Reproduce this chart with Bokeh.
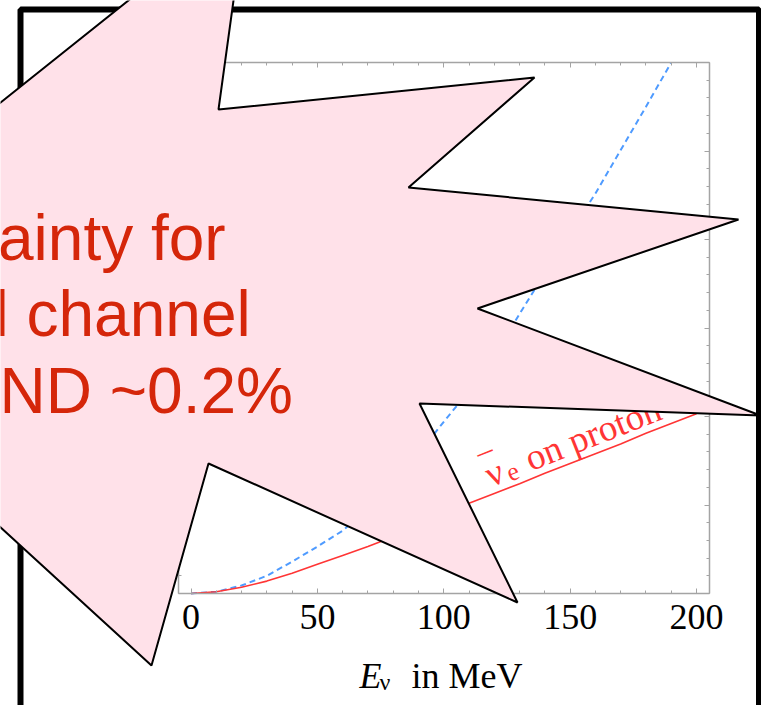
import math
from bokeh.plotting import figure
from bokeh.models import (Range1d, LinearAxis, FixedTicker, CustomJSTickFormatter,
                          Label, PolyAnnotation, BoxAnnotation, Grid)
from bokeh.embed import file_html
from bokeh.resources import INLINE

# ---------------- data ----------------
energy_mev = [0, 10, 20, 30, 40, 50, 60, 70, 80, 90, 100,
              110, 120, 130, 140, 150, 160, 170, 180, 190, 200]
# dashed blue curve leaves the top of the box at ~190 MeV
dashed_blue = [0.00, 0.02, 0.09, 0.20, 0.36, 0.53, 0.71, 0.96, 1.24, 1.58, 1.94,
               2.29, 2.68, 3.16, 3.62, 4.08, 4.52, 5.01, 5.50, 6.00]
solid_red = [0.00, 0.02, 0.07, 0.14, 0.23, 0.33, 0.43, 0.53, 0.64, 0.77, 0.89,
             1.02, 1.13, 1.24, 1.36, 1.47, 1.58, 1.69, 1.81, 1.92, 2.03]
x_major_ticks = [0, 50, 100, 150, 200]
x_minor_ticks = [0, 10, 20, 30, 40, 50, 60, 70, 80, 90, 100,
                 110, 120, 130, 140, 150, 160, 170, 180, 190, 200]
y_major_ticks = [0, 1, 2, 3, 4, 5, 6]
y_minor_ticks = [i / 5 for i in range(31)]
red_label_parts = ["\u03bd", "\u00af", "e", "on proton"]
axis_title_parts = ["E", "\u03bd", "in MeV"]
callout_lines = ["ainty for", "l channel", "ND ~0.2%"]

# ---------------- styles / geometry ----------------
W, H = 761, 705
SERIF = "Liberation Serif"
SANS = "Liberation Sans"
FRAME_GRAY = "#a4a4a4"
BLUE = "#4f9bff"
RED = "#ff3535"
CALLOUT_RED = "#d5260a"
PINK = "#ffe1e9"

X0_PX, PX_PER_MEV = 190.5, 2.5275      # canvas x of 0 MeV, px per MeV
Y0_PX, PX_PER_UNIT = 593.0, 88.5       # canvas y of 0, px per y unit
BOX_X = (-4.95, 205.1)                 # plot box limits in data units
BOX_Y = (0.0, 6.0)

x_range = Range1d(-X0_PX / PX_PER_MEV, (W - X0_PX) / PX_PER_MEV)
y_range = Range1d(-(H - Y0_PX) / PX_PER_UNIT, Y0_PX / PX_PER_UNIT)

p = figure(width=W, height=H, output_backend="svg", toolbar_location=None,
           x_range=x_range, y_range=y_range,
           x_axis_location=None, y_axis_location=None,
           min_border=0, min_border_left=0, min_border_right=0,
           min_border_top=0, min_border_bottom=0,
           background_fill_color="white", border_fill_color="white")
p.outline_line_color = None
for r in list(p.renderers) + list(p.center):
    if isinstance(r, Grid):
        r.visible = False

blank = CustomJSTickFormatter(code="return '';")


def make_axis(ticks, minor, loc, bounds, labels):
    ax = LinearAxis(ticker=FixedTicker(ticks=ticks, minor_ticks=minor),
                    fixed_location=loc, bounds=bounds)
    if not labels:
        ax.formatter = blank
    ax.axis_line_color = FRAME_GRAY
    ax.axis_line_width = 1.5
    ax.major_tick_line_color = FRAME_GRAY
    ax.minor_tick_line_color = FRAME_GRAY
    ax.major_tick_line_width = 1
    ax.minor_tick_line_width = 1
    ax.major_tick_in = 5
    ax.major_tick_out = 0
    ax.minor_tick_in = 3
    ax.minor_tick_out = 0
    return ax


xb = make_axis(x_major_ticks, x_minor_ticks, BOX_Y[0], BOX_X, True)
xb.major_label_text_font = SERIF
xb.major_label_text_font_size = "36px"
xb.major_label_text_color = "black"
xb.major_label_standoff = 11
p.add_layout(xb, "below")
p.add_layout(make_axis(x_major_ticks, x_minor_ticks, BOX_Y[1], BOX_X, False), "above")
p.add_layout(make_axis(y_major_ticks, y_minor_ticks, BOX_X[0], BOX_Y, False), "left")
p.add_layout(make_axis(y_major_ticks, y_minor_ticks, BOX_X[1], BOX_Y, False), "right")

# ---------------- curves ----------------
p.line(energy_mev[:len(dashed_blue)], dashed_blue, line_color=BLUE, line_width=2,
       line_dash="6 4")
p.line(energy_mev, solid_red, line_color=RED, line_width=1.6)

# ---------------- rotated curve label ----------------
theta = 21.6
c, s = math.cos(math.radians(theta)), math.sin(math.radians(theta))
anchor_x, anchor_y = 116.9, 1.333
pieces = [(red_label_parts[0], 0, 0, "37px", "left"),
          (red_label_parts[1], 7, -9, "32px", "center"),
          (red_label_parts[2], 20, 6, "26px", "left"),
          (red_label_parts[3], 43, 0, "37px", "left")]
for txt, along, down, size, align in pieces:
    p.add_layout(Label(x=anchor_x, y=anchor_y, text=txt,
                       x_offset=along * c + down * s, y_offset=along * s - down * c,
                       angle=theta, angle_units="deg",
                       text_font=SERIF, text_font_size=size, text_color=RED,
                       text_align=align, text_baseline="alphabetic"))

# ---------------- axis title ----------------
p.add_layout(Label(x=359, y=675, x_units="canvas", y_units="canvas", text=axis_title_parts[0],
                   text_font=SERIF, text_font_style="italic", text_font_size="36px",
                   text_color="black", text_align="left", text_baseline="alphabetic"))
p.add_layout(Label(x=379, y=681, x_units="canvas", y_units="canvas", text=axis_title_parts[1],
                   text_font=SERIF, text_font_size="24px",
                   text_color="black", text_align="left", text_baseline="alphabetic"))
p.add_layout(Label(x=411, y=675, x_units="canvas", y_units="canvas", text=axis_title_parts[2],
                   text_font=SERIF, text_font_size="36px",
                   text_color="black", text_align="left", text_baseline="alphabetic"))

# ---------------- slide frame and callout ----------------
p.add_layout(BoxAnnotation(left=20, right=758.5, top=9, bottom=740,
                           left_units="canvas", right_units="canvas",
                           top_units="canvas", bottom_units="canvas",
                           fill_color=None, fill_alpha=0, line_color="black",
                           line_alpha=1.0, line_width=6))

burst_x = [-60, 178, 238.5, 218, 534, 408, 738, 477, 760, 419, 517, 208, 151, -60]
burst_y = [150, -40, -40, 109, 77, 187, 219, 308, 415, 403, 602, 463, 665, 472]
p.add_layout(PolyAnnotation(xs=burst_x, ys=burst_y, xs_units="canvas", ys_units="canvas",
                            fill_color=PINK, fill_alpha=1.0,
                            line_color="black", line_alpha=1.0, line_width=2))

for txt, x0, y0 in zip(callout_lines, [-2.5, -6, -1], [237, 313, 390]):
    p.add_layout(Label(x=x0, y=y0, x_units="canvas", y_units="canvas", text=txt,
                       text_font=SANS, text_font_size="64px", text_color=CALLOUT_RED,
                       text_align="left", text_baseline="alphabetic"))

open("out.html", "w").write(file_html(p, INLINE))
